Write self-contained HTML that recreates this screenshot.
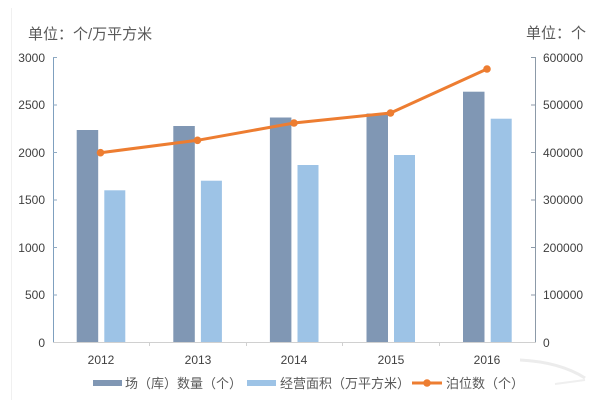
<!DOCTYPE html>
<html><head><meta charset="utf-8">
<style>
html,body{margin:0;padding:0;background:#fff;}
svg{display:block;}
text{font-family:"Liberation Sans","Noto Sans CJK SC",sans-serif;}
.cjk{font-family:"Liberation Sans","Noto Sans CJK SC",sans-serif;fill:#595959;}
.tk{font-size:12px;fill:#404040;}
</style></head>
<body>
<svg width="600" height="400" viewBox="0 0 600 400" xmlns="http://www.w3.org/2000/svg">
<rect width="600" height="400" fill="#fff"/>
<line x1="11.5" y1="8" x2="11.5" y2="400" stroke="#f0f0f0" stroke-width="1"/>

<!-- titles -->
<text x="28" y="39" class="cjk" font-size="15">单位：个/万平方米</text>
<text x="526" y="38" class="cjk" font-size="15">单位：个</text>

<!-- axes -->
<line x1="53.5" y1="57" x2="53.5" y2="342" stroke="#7fa0bf" stroke-width="1"/>
<line x1="535.5" y1="57" x2="535.5" y2="342" stroke="#8c9aa8" stroke-width="1"/>
<line x1="53" y1="342.5" x2="536" y2="342.5" stroke="#d0d0d0" stroke-width="1"/>
<!-- left ticks -->
<g stroke="#8faac3" stroke-width="1">
<line x1="53" y1="57.5" x2="57" y2="57.5"/>
<line x1="53" y1="105" x2="57" y2="105"/>
<line x1="53" y1="152.5" x2="57" y2="152.5"/>
<line x1="53" y1="200" x2="57" y2="200"/>
<line x1="53" y1="247.5" x2="57" y2="247.5"/>
<line x1="53" y1="295" x2="57" y2="295"/>
</g>
<g stroke="#8c9aa8" stroke-width="1">
<line x1="531" y1="57.5" x2="535" y2="57.5"/>
<line x1="531" y1="105" x2="535" y2="105"/>
<line x1="531" y1="152.5" x2="535" y2="152.5"/>
<line x1="531" y1="200" x2="535" y2="200"/>
<line x1="531" y1="247.5" x2="535" y2="247.5"/>
<line x1="531" y1="295" x2="535" y2="295"/>
</g>
<g stroke="#d0d0d0" stroke-width="1">
<line x1="149.5" y1="342" x2="149.5" y2="346"/>
<line x1="246.5" y1="342" x2="246.5" y2="346"/>
<line x1="342.5" y1="342" x2="342.5" y2="346"/>
<line x1="439.5" y1="342" x2="439.5" y2="346"/>
</g>

<!-- left tick labels -->
<g class="tk" text-anchor="end">
<text x="45" y="62">3000</text>
<text x="45" y="109">2500</text>
<text x="45" y="157">2000</text>
<text x="45" y="204">1500</text>
<text x="45" y="252">1000</text>
<text x="45" y="299">500</text>
<text x="45" y="347">0</text>
</g>
<!-- right tick labels -->
<g class="tk" text-anchor="start">
<text x="543" y="62">600000</text>
<text x="543" y="109">500000</text>
<text x="543" y="157">400000</text>
<text x="543" y="204">300000</text>
<text x="543" y="252">200000</text>
<text x="543" y="299">100000</text>
<text x="543" y="347">0</text>
</g>
<!-- x labels -->
<g class="tk" text-anchor="middle">
<text x="101" y="364">2012</text>
<text x="198" y="364">2013</text>
<text x="294" y="364">2014</text>
<text x="391" y="364">2015</text>
<text x="487" y="364">2016</text>
</g>

<!-- dark bars -->
<g fill="#8097b4">
<rect x="76.7" y="130" width="21.5" height="212"/>
<rect x="173.3" y="126" width="21.5" height="216"/>
<rect x="269.9" y="117.5" width="21.5" height="224.5"/>
<rect x="366.5" y="113.5" width="21.5" height="228.5"/>
<rect x="463" y="91.7" width="21.5" height="250.3"/>
</g>
<!-- light bars -->
<g fill="#9dc3e6">
<rect x="104.3" y="190.3" width="21" height="151.7"/>
<rect x="200.9" y="180.7" width="21" height="161.3"/>
<rect x="297.5" y="165" width="21" height="177"/>
<rect x="394" y="155" width="21" height="187"/>
<rect x="490.7" y="118.7" width="21" height="223.3"/>
</g>

<!-- line -->
<polyline points="100.5,152.7 197.5,140.3 294,123 390.5,113 487,69" fill="none" stroke="#ed7d31" stroke-width="3" stroke-linejoin="round"/>
<g fill="#ed7d31">
<circle cx="100.5" cy="152.7" r="3.8"/>
<circle cx="197.5" cy="140.3" r="3.8"/>
<circle cx="294" cy="123" r="3.8"/>
<circle cx="390.5" cy="113" r="3.8"/>
<circle cx="487" cy="69" r="3.8"/>
</g>

<!-- legend -->
<rect x="93" y="380" width="29" height="6" fill="#8097b4"/>
<text x="125" y="388" class="cjk" font-size="13">场（库）数量（个）</text>
<rect x="247" y="380" width="29" height="6" fill="#9dc3e6"/>
<text x="280" y="388" class="cjk" font-size="13">经营面积（万平方米）</text>
<line x1="412" y1="383" x2="442" y2="383" stroke="#ed7d31" stroke-width="3"/>
<circle cx="427" cy="383" r="3.8" fill="#ed7d31"/>
<text x="446" y="388" class="cjk" font-size="13">泊位数（个）</text>

<!-- faint watermark swoosh -->
<path d="M520 360 Q560 362 585 378" fill="none" stroke="#ececec" stroke-width="3"/>
<path d="M555 384 Q570 382 585 380" fill="none" stroke="#efefef" stroke-width="2"/>
</svg>
</body></html>
